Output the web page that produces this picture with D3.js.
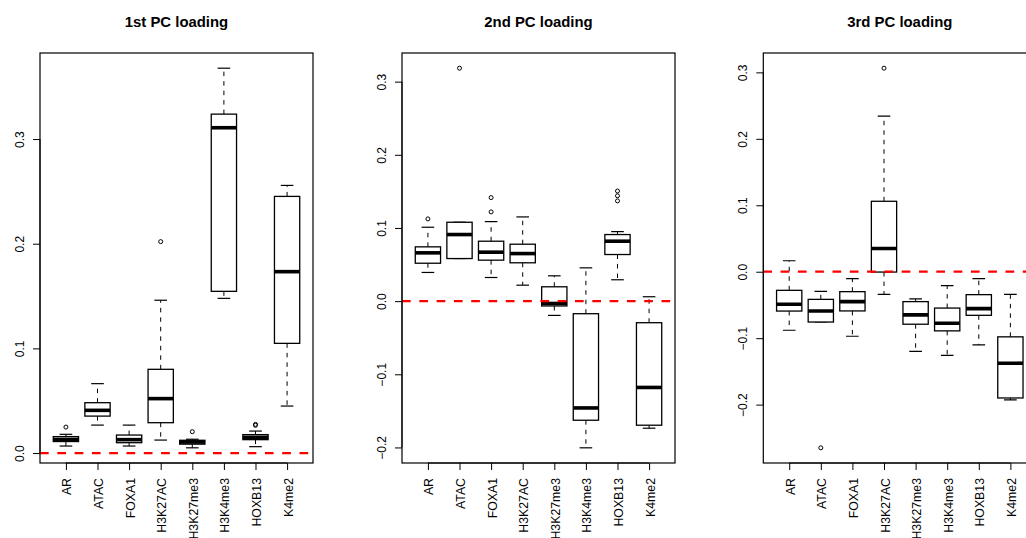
<!DOCTYPE html>
<html>
<head>
<meta charset="utf-8">
<script src="https://cdn.jsdelivr.net/npm/d3@7/dist/d3.min.js"></script>
<style>
  html, body { margin: 0; padding: 0; background: #fff; }
  svg { display: block; }
  text { font-family: "Liberation Sans", Arial, Helvetica, sans-serif; fill: #000; }
</style>
</head>
<body>
<svg id="chart" width="1026" height="538"></svg>
<script>
// Loading categories (one box per mark)
const categories = ["AR", "ATAC", "FOXA1", "H3K27AC", "H3K27me3", "H3K4me3", "HOXB13", "K4me2"];

// Box statistics per category: [lower whisker, Q1, median, Q3, upper whisker]
const pc1Stats = [
  [0.0067, 0.0110, 0.0130, 0.0157, 0.0179],
  [0.0267, 0.0353, 0.0408, 0.0481, 0.0663],
  [0.0067, 0.0099, 0.0128, 0.0172, 0.0267],
  [0.0124, 0.0290, 0.0520, 0.0800, 0.1460],
  [0.0050, 0.0085, 0.0105, 0.0122, 0.0132],
  [0.1478, 0.1545, 0.3108, 0.3238, 0.3677],
  [0.0061, 0.0128, 0.0150, 0.0176, 0.0210],
  [0.0449, 0.1048, 0.1733, 0.2452, 0.2557]
];
const pc1Outliers = [[0.0248], [], [], [0.2020], [0.0204], [], [0.0265, 0.0274], []];

const pc2Stats = [
  [0.0392, 0.0518, 0.0660, 0.0742, 0.1010],
  [0.0582, 0.0582, 0.0910, 0.1078, 0.1078],
  [0.0323, 0.0560, 0.0669, 0.0819, 0.1087],
  [0.0218, 0.0524, 0.0650, 0.0778, 0.1151],
  [-0.0195, -0.0066, -0.0032, 0.0196, 0.0346],
  [-0.2005, -0.1628, -0.1460, -0.0172, 0.0455],
  [0.0292, 0.0637, 0.0819, 0.0910, 0.0950],
  [-0.1737, -0.1696, -0.1180, -0.0295, 0.0060]
];
const pc2Outliers = [[0.1124], [0.3184], [0.1220, 0.1415], [], [], [], [0.1370, 0.1440, 0.1505], []];

const pc3Stats = [
  [-0.0881, -0.0592, -0.0490, -0.0280, 0.0165],
  [-0.0757, -0.0757, -0.0590, -0.0416, -0.0296],
  [-0.0971, -0.0590, -0.0450, -0.0300, -0.0105],
  [-0.0340, -0.0005, 0.0350, 0.1060, 0.2342],
  [-0.1200, -0.0790, -0.0650, -0.0450, -0.0410],
  [-0.1260, -0.0890, -0.0776, -0.0547, -0.0210],
  [-0.1100, -0.0656, -0.0556, -0.0345, -0.0105],
  [-0.1928, -0.1900, -0.1377, -0.0980, -0.0340]
];
const pc3Outliers = [[], [-0.2650], [], [0.3063], [], [], [], []];

// Tick values for each panel's vertical axis
const pc1Ticks = [0.0, 0.1, 0.2, 0.3];
const pc2Ticks = [-0.2, -0.1, 0.0, 0.1, 0.2, 0.3];
const pc3Ticks = [-0.2, -0.1, 0.0, 0.1, 0.2, 0.3];

const panels = [
  { title: "1st PC loading", stats: pc1Stats, outliers: pc1Outliers, ticks: pc1Ticks, left: 40 },
  { title: "2nd PC loading", stats: pc2Stats, outliers: pc2Outliers, ticks: pc2Ticks, left: 402 },
  { title: "3rd PC loading", stats: pc3Stats, outliers: pc3Outliers, ticks: pc3Ticks, left: 763.3 }
];

const svg = d3.select("#chart");
const plotW = 273, plotTop = 53, plotBottom = 463;
const fmt = v => d3.format(".1f")(v).replace("-", "\u2212");

panels.forEach((p, pi) => {
  // Value range padded by 4% on each side, like base R plots
  const all = p.stats.flat().concat(p.outliers.flat());
  const lo = d3.min(all), hi = d3.max(all), pad = (hi - lo) * 0.04;
  const y = d3.scaleLinear().domain([lo - pad, hi + pad]).range([plotBottom, plotTop]);
  const x = d3.scaleLinear().domain([0.18, 8.82]).range([p.left, p.left + plotW]);
  const unit = x(2) - x(1);
  const bw = unit * 0.8, sw = bw * 0.5;

  const clipId = "clip" + pi;
  svg.append("clipPath").attr("id", clipId)
    .append("rect").attr("x", p.left).attr("y", plotTop).attr("width", plotW).attr("height", plotBottom - plotTop);

  const g = svg.append("g");

  // Title
  g.append("text")
    .attr("x", p.left + plotW / 2).attr("y", 27)
    .attr("text-anchor", "middle")
    .style("font-weight", "bold").style("font-size", "14.9px")
    .text(p.title);

  // Vertical axis
  const yAxis = d3.axisLeft(y).tickValues(p.ticks).tickSize(7).tickFormat(fmt);
  const ya = g.append("g").attr("transform", `translate(${p.left},0)`).call(yAxis);
  ya.select(".domain").attr("stroke", "#000")
    .attr("d", `M0,${y(p.ticks[0])}V${y(p.ticks[p.ticks.length - 1])}`);
  ya.selectAll(".tick line").attr("stroke", "#000");
  ya.selectAll(".tick text")
    .attr("x", 0).attr("y", 0).attr("dy", null)
    .attr("transform", "translate(-16.5,0) rotate(-90)")
    .attr("text-anchor", "middle")
    .style("font-size", "12px").style("font-family", "'Liberation Sans', Arial, sans-serif");

  // Category axis
  const cats = d3.range(1, categories.length + 1);
  const xAxis = d3.axisBottom(x).tickValues(cats).tickSize(7).tickFormat(i => categories[i - 1]);
  const xa = g.append("g").attr("transform", `translate(0,${plotBottom})`).call(xAxis);
  xa.select(".domain").attr("stroke", "#000").attr("d", `M${x(1)},0H${x(categories.length)}`);
  xa.selectAll(".tick line").attr("stroke", "#000");
  xa.selectAll(".tick text")
    .attr("x", 0).attr("y", 0).attr("dy", null)
    .attr("transform", "translate(5,15) rotate(-90)")
    .attr("text-anchor", "end")
    .style("font-size", "12.3px").style("font-family", "'Liberation Sans', Arial, sans-serif");

  // Boxes
  const boxes = g.append("g").attr("clip-path", `url(#${clipId})`);
  p.stats.forEach((s, i) => {
    const cx = x(i + 1);
    const [wl, q1, md, q3, wh] = s;
    const bg = boxes.append("g");
    // whiskers
    bg.append("line").attr("x1", cx).attr("x2", cx).attr("y1", y(q3)).attr("y2", y(wh))
      .attr("stroke", "#000").attr("stroke-width", 1).attr("stroke-dasharray", "4.5 5");
    bg.append("line").attr("x1", cx).attr("x2", cx).attr("y1", y(q1)).attr("y2", y(wl))
      .attr("stroke", "#000").attr("stroke-width", 1).attr("stroke-dasharray", "4.5 5");
    // staples
    [wl, wh].forEach(v => {
      bg.append("line").attr("x1", cx - sw / 2).attr("x2", cx + sw / 2)
        .attr("y1", y(v)).attr("y2", y(v)).attr("stroke", "#000").attr("stroke-width", 1.2);
    });
    // box
    bg.append("rect").attr("x", cx - bw / 2).attr("width", bw)
      .attr("y", y(q3)).attr("height", Math.max(0.5, y(q1) - y(q3)))
      .attr("fill", "#fff").attr("stroke", "#000").attr("stroke-width", 1.3);
    // median
    bg.append("line").attr("x1", cx - bw / 2).attr("x2", cx + bw / 2)
      .attr("y1", y(md)).attr("y2", y(md)).attr("stroke", "#000").attr("stroke-width", 3.6);
    // outliers
    p.outliers[i].forEach(v => {
      bg.append("circle").attr("cx", cx).attr("cy", y(v)).attr("r", 2)
        .attr("fill", "none").attr("stroke", "#000").attr("stroke-width", 1);
    });
  });

  // Zero reference line
  boxes.append("line").attr("x1", p.left).attr("x2", p.left + plotW)
    .attr("y1", y(0)).attr("y2", y(0))
    .attr("stroke", "#ff0000").attr("stroke-width", 2.3).attr("stroke-dasharray", "8.7 8.6");

  // Plot frame
  g.append("rect").attr("x", p.left).attr("y", plotTop).attr("width", plotW).attr("height", plotBottom - plotTop)
    .attr("fill", "none").attr("stroke", "#000").attr("stroke-width", 1.2);
});
</script>
</body>
</html>
